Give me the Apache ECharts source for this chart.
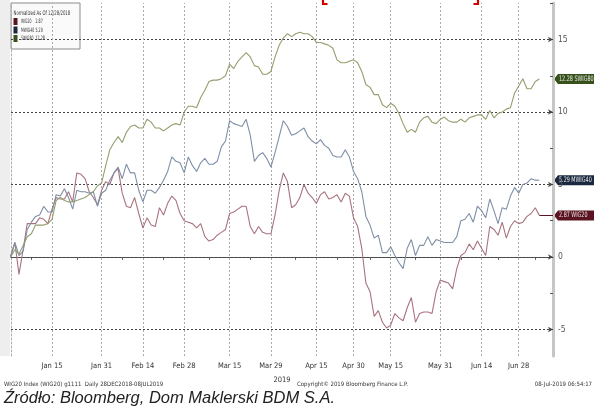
<!DOCTYPE html>
<html><head><meta charset="utf-8">
<script src="https://cdn.jsdelivr.net/npm/echarts@6/dist/echarts.min.js"></script>
<style>html,body{margin:0;padding:0;background:#fff}#c{width:598px;height:409px}</style>
</head><body><div id="c"></div>
<script>
// ---- data ----
const startDate = '2018-12-28', endDate = '2019-07-05';
const holidays = ['2019-01-01','2019-04-19','2019-04-22','2019-05-01','2019-05-03','2019-06-20'];
const tickDates = ['2019-01-15','2019-01-31','2019-02-14','2019-02-28','2019-03-15','2019-03-29','2019-04-15','2019-04-30','2019-05-15','2019-05-31','2019-06-14','2019-06-28'];
const tickLabels = ['Jan 15','Jan 31','Feb 14','Feb 28','Mar 15','Mar 29','Apr 15','Apr 30','May 15','May 31','Jun 14','Jun 28'];
const minorTickDates = ['2019-01-08','2019-01-23','2019-02-07','2019-02-21','2019-03-08','2019-03-22','2019-04-08','2019-04-24','2019-05-08','2019-05-23','2019-06-07','2019-06-21','2019-07-04'];
const seriesNames = ['WIG20','MWIG40','SWIG80'];
const wig20 = [0,0.1,1.0,-1.2,0.5,2.3,2.3,2.3,2.7,2.6,2.3,3.3,4.1,4.0,4.0,4.5,3.8,5.8,5.7,5.4,
 4.5,4.1,3.6,4.6,5.2,5.0,5.8,6.1,4.4,3.5,3.4,4.1,3.0,2.0,2.7,2.2,2.1,3.4,2.9,3.7,
 4.2,3.9,3.0,2.5,2.4,2.3,2.0,2.3,1.4,1.1,1.2,1.5,1.7,1.9,3.0,3.1,3.3,3.5,3.5,2.1,
 1.6,2.1,1.7,1.6,1.6,2.9,4.6,5.8,5.2,3.4,3.6,4.1,5.0,4.4,4.1,3.7,4.3,4.5,4.0,4.1,
 4.3,3.8,4.4,4.2,2.7,2.1,0.6,-1.8,-2.4,-4.1,-3.7,-4.5,-4.9,-4.7,-3.9,-4.2,-4.4,-3.5,-2.8,-4.5,
 -3.9,-3.8,-3.8,-3.9,-2.4,-1.6,-1.7,-1.8,-2.2,-0.8,0.1,0.3,0.9,0.5,1.1,0.6,0.1,2.1,1.9,1.5,
 2.4,1.3,2.1,2.5,2.3,2.4,2.8,3.0,3.4,2.87];
const mwig40 = [0,0,1.0,0.1,0.4,1.9,2.4,2.8,2.9,3.5,3.1,3.1,4.3,4.2,4.7,4.1,3.3,4.6,4.5,4.5,
 4.4,4.5,3.5,4.4,4.6,5.3,5.8,6.2,5.4,6.4,5.8,5.8,4.6,3.8,4.6,4.6,4.4,4.8,5.3,5.9,
 6.9,6.6,6.5,5.8,6.9,6.3,5.9,6.5,6.8,6.4,6.4,6.6,7.6,8.0,9.4,9.2,9.1,9.0,9.5,8.4,
 6.6,7.0,7.2,6.8,6.2,7.2,8.3,9.4,9.0,8.4,8.5,8.7,8.9,8.3,8.0,7.8,8.1,7.7,7.5,7.0,
 6.9,6.9,7.4,6.9,5.9,5.4,4.5,2.8,2.2,1.3,1.5,0.3,0.3,0.7,0.1,-0.4,-0.8,0.6,1.2,0.1,
 0.8,0.8,1.4,0.8,1.2,1.1,1.0,1.0,1.0,1.4,2.5,2.6,3.0,2.4,3.5,3.2,2.7,4.0,3.2,2.3,
 3.4,3.3,4.2,4.8,4.4,5.0,5.1,5.4,5.3,5.29];
const swig80 = [0,0,0.5,0.2,0.8,1.4,1.6,2.2,2.2,2.2,2.3,2.6,3.9,4.1,3.9,3.8,3.8,3.9,4.0,4.1,
 4.3,4.5,4.9,5.1,6.3,7.4,7.9,8.3,7.9,8.6,9.0,9.1,8.9,8.9,9.5,9.3,8.9,8.9,8.7,8.9,
 9.1,9.2,9.1,10.0,10.4,10.4,10.3,11.0,11.5,12.1,12.2,12.2,12.3,12.5,13.3,13.0,13.5,13.8,14.1,13.8,
 13.2,13.1,12.6,12.6,12.8,13.8,14.6,15.1,15.4,15.2,15.4,15.5,15.4,15.4,15.2,14.8,14.8,14.7,14.6,14.4,
 13.6,13.4,13.4,13.5,13.6,13.4,12.8,11.9,11.7,11.2,11.2,10.5,10.3,10.6,10.4,9.9,9.2,8.6,8.8,8.6,
 9.3,9.6,9.7,9.3,9.2,9.5,9.65,9.4,9.3,9.3,9.5,9.3,9.6,9.7,9.8,9.8,9.5,10.1,9.6,9.9,
 10.0,10.2,10.3,11.3,11.8,12.3,11.6,11.6,12.1,12.28];
const yTickValues = [-5,0,5,10,15];
const yMinorTickValues = [-2.5,2.5,7.5,12.5,17.5];

// ---- build ----
function tradingDays(){
  const out=[]; let d=new Date(startDate+'T00:00:00Z'); const end=new Date(endDate+'T00:00:00Z');
  while(d<=end){const w=d.getUTCDay(); const s=d.toISOString().slice(0,10);
    if(w!==0&&w!==6&&holidays.indexOf(s)<0) out.push(s);
    d=new Date(d.getTime()+86400000);}
  return out;
}
const dates = tradingDays();
const tickIdx = tickDates.map(d=>dates.indexOf(d));
const minorIdx = minorTickDates.map(d=>dates.indexOf(d)).filter(i=>i>=0);
const X_MIN = 1.065, X_MAX = 132.3, Y_MIN = -6.83, Y_MAX = 17.52;
const lineColors = ['#a8737f','#7e8fa7','#929f6e'];
const tagColors = ['#5b1321','#1a2840','#36521a'];
const all = [wig20, mwig40, swig80];
const FONT = "'DejaVu Sans Condensed','Liberation Sans Narrow','Liberation Sans',sans-serif";
const last = a => a[a.length-1];
const fmt = v => v.toFixed(2);

const chart = echarts.init(document.getElementById('c'), null, {renderer:'canvas'});

const series = all.map((arr,i)=>({
  name: seriesNames[i], type:'line', data: arr.map((v,k)=>[k,v]),
  showSymbol:false, symbol:'none', clip:true, z:3,
  lineStyle:{color:lineColors[i], width:1.1}
}));
series[0].markLine = {silent:true, z:1, symbol:['none','arrow'], symbolSize:[4,5], label:{show:false},
  lineStyle:{color:'#444', type:[2,2], width:1},
  data: yTickValues.map(v=>({yAxis:v}))};
series[1].markLine = {silent:true, z:1, symbol:'none', label:{show:false},
  lineStyle:{color:'#aaa', type:[2,2], width:1},
  data: tickIdx.map(i=>({xAxis:i})).concat([[{coord:[dates.length-1,last(wig20)], lineStyle:{color:tagColors[0], type:'solid', width:1}},{coord:[X_MAX,last(wig20)]}]])};

function stext(x,y,t,size,sx,fill){
  return {type:'text', x:x, y:y, scaleX:sx, style:{text:t, fontSize:size, fontFamily:FONT, fill:fill||'#333', verticalAlign:'middle', align:'left'}};
}

const option = {
  animation:false, backgroundColor:'#fff',
  grid:{left:11, right:45, top:3, bottom:53},
  xAxis:{type:'value', min:X_MIN, max:X_MAX,
    name:'2019', nameLocation:'middle', nameGap:20, nameTextStyle:{fontSize:7.5, color:'#333', fontFamily:FONT},
    axisLine:{lineStyle:{color:'#555', width:1}},
    axisTick:{show:true, length:3, customValues: tickIdx.concat(minorIdx), lineStyle:{color:'#666'}},
    axisLabel:{customValues: tickIdx, formatter:v=>tickLabels[tickIdx.indexOf(Math.round(v))]||'', fontSize:7.5, color:'#333', fontFamily:FONT, margin:6},
    splitLine:{show:false}},
  yAxis:[{type:'value', position:'right', min:Y_MIN, max:Y_MAX,
    axisLine:{show:true, lineStyle:{color:'#c6c6c6', width:3}},
    axisTick:{show:true, inside:true, length:3, customValues:yMinorTickValues, lineStyle:{color:'#555'}},
    axisLabel:{customValues:yTickValues, fontSize:8.5, color:'#555', fontFamily:FONT, margin:5},
    splitLine:{show:false}},
   {type:'value', position:'left', min:Y_MIN, max:Y_MAX,
    axisLine:{show:true, lineStyle:{color:'#aaa', type:[2,2], width:1}},
    axisTick:{show:false}, axisLabel:{show:false}, splitLine:{show:false}}],
  series: series
};
chart.setOption(option);

// tags and decorations
const tagEls = all.map((arr,i)=>{
  const p = chart.convertToPixel({gridIndex:0}, [X_MAX, last(arr)]);
  const x = p[0], y = p[1];
  return {type:'group', z:20, children:[
    {type:'polygon', shape:{points:[[x+1,y],[x+5,y-5],[x+41,y-5],[x+41,y+5],[x+5,y+5]]}, style:{fill:tagColors[i]}},
    stext(x+6, y, fmt(last(arr))+' '+seriesNames[i], 7.5, 0.72, '#e8e8e8')
  ]};
});

chart.setOption({graphic:[
  {type:'rect', left:0, top:0, shape:{width:10, height:356}, style:{fill:'#eeeeee'}, z:0, silent:true},
  {type:'group', x:11, y:3, z:10, children:[
    {type:'rect', shape:{x:0,y:0,width:69,height:46}, style:{fill:'rgba(246,246,246,0.55)', stroke:'#8a8a8a', lineWidth:1}},
    stext(2.5, 10, 'Normalized As Of 12/28/2018', 6.3, 0.68),
    ...seriesNames.map((n,i)=>({type:'group', children:[
      {type:'rect', shape:{x:2.5, y:15+i*8.5, width:4, height:7}, style:{fill:tagColors[i]}},
      stext(10, 18.5+i*8.5, n, 6, 0.58),
      stext(24.5, 18.5+i*8.5, fmt(last(all[i])), 6, 0.6)
    ]}))
  ]},
  {type:'group', z:15, children:[
    {type:'polyline', shape:{points:[[323,0],[323,4],[327.5,4]]}, style:{stroke:'#d00000', lineWidth:2.2, fill:null}},
    {type:'polyline', shape:{points:[[473.5,4],[478,4],[478,0]]}, style:{stroke:'#d00000', lineWidth:2.2, fill:null}}
  ]},
  ...tagEls,
  {type:'text', left:4, top:381, style:{text:'WIG20 Index (WIG20) g1111  Daily 28DEC2018-08JUL2019', fontSize:6, fontFamily:FONT, fill:'#333'}},
  {type:'text', left:297, top:381, style:{text:'Copyright\u00a9 2019 Bloomberg Finance L.P.', fontSize:6, fontFamily:FONT, fill:'#333'}},
  {type:'text', right:6, top:381, style:{text:'08-Jul-2019 06:54:17', fontSize:6, fontFamily:FONT, fill:'#333'}},
  {type:'text', left:4, top:390, style:{text:'Źródło: Bloomberg, Dom Maklerski BDM S.A.', fontSize:16.5, fontStyle:'italic', fontFamily:"'Liberation Sans',Arial,sans-serif", fill:'#222'}}
]});
</script></body></html>
